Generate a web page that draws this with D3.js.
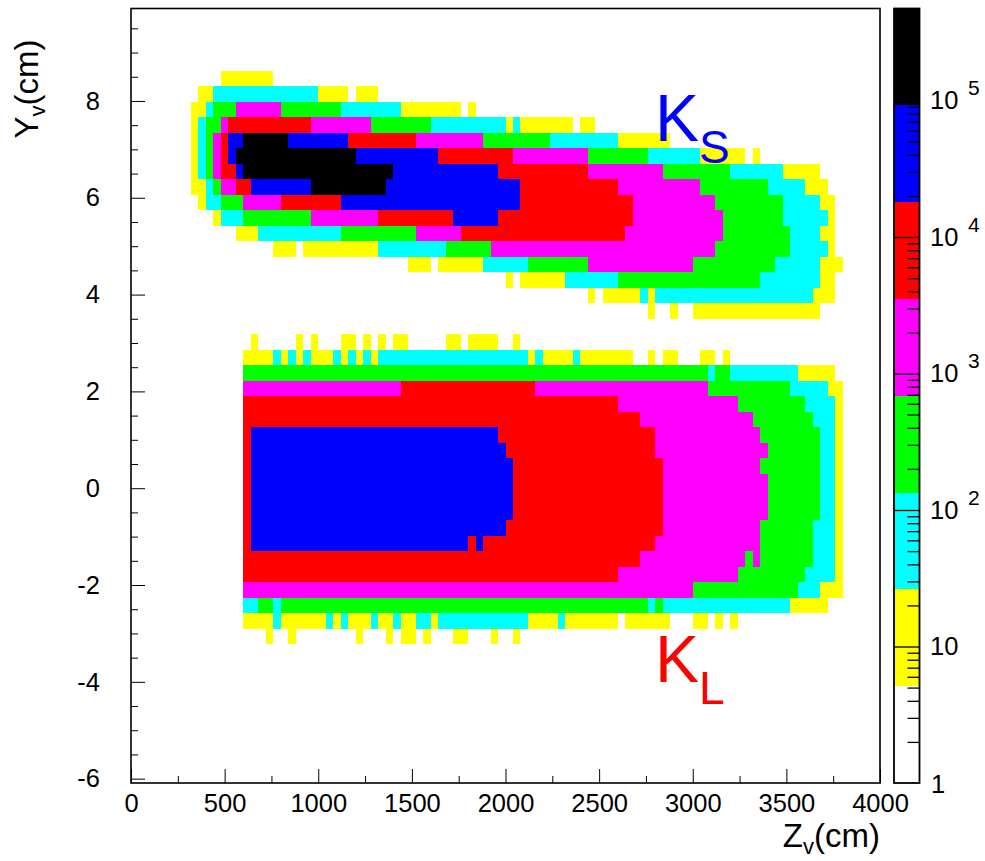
<!DOCTYPE html>
<html>
<head>
<meta charset="utf-8">
<script src="https://cdn.jsdelivr.net/npm/d3@7"></script>
<style>
  body { margin: 0; background: #fff; }
  text { font-family: "Liberation Sans", Arial, sans-serif; fill: #000; }
</style>
</head>
<body>
<div id="chart-area"></div>
<script>
// Colour levels of the histogram, low to high
const levelColors = ["#ffffff", "#ffff00", "#00ffff", "#00ff00", "#ff00ff", "#ff0000", "#0000ff", "#000000"];
const contourEdges = [5.12, 26.2, 134, 686, 3510, 17970, 92000];
const levelCounts = [0, 12, 60, 300, 1500, 8000, 40000, 200000];

// Bins: 40 cm each in Z, 0.32 cm each in Y (counted down from yBinTop)
const zBinSize = 40;
const yBinSize = 0.32;
const yBinTop = 9.9;
const zRange = [0, 4000];
const yRange = [-6.09, 9.91];
const countRange = [1, 472000];

// Each row: [yBin, [[firstZBin, level], ...]], a level holds until the next entry
const ksRows = [
	[4, [[12,1],[19,0]]],
	[5, [[9,1],[11,2],[25,1],[29,0],[30,1],[33,0]]],
	[6, [[8,1],[10,2],[11,3],[14,4],[20,3],[28,2],[36,1],[44,0],[45,1],[46,0]]],
	[7, [[8,1],[9,2],[10,3],[12,4],[13,5],[24,4],[32,3],[40,2],[50,1],[51,2],[52,1],[59,0],[60,1],[62,0]]],
	[8, [[8,1],[9,2],[10,3],[11,4],[12,5],[13,6],[15,7],[21,6],[29,5],[38,4],[47,3],[56,2],[65,1],[72,0]]],
	[9, [[8,1],[9,2],[10,3],[11,4],[12,5],[13,6],[14,7],[30,6],[41,5],[51,4],[61,3],[69,2],[76,1],[82,0],[83,1],[84,0]]],
	[10, [[8,1],[9,2],[10,3],[11,4],[12,5],[14,6],[15,7],[35,6],[49,5],[61,4],[71,3],[80,2],[87,1],[92,0]]],
	[11, [[8,1],[10,2],[11,3],[12,4],[14,5],[16,6],[24,7],[34,6],[52,5],[65,4],[76,3],[85,2],[90,1],[93,0]]],
	[12, [[9,1],[10,2],[12,3],[15,4],[20,5],[28,6],[52,5],[67,4],[78,3],[87,2],[92,1],[94,0]]],
	[13, [[11,1],[12,2],[15,3],[24,4],[33,5],[43,6],[49,5],[67,4],[79,3],[87,2],[93,1],[94,0]]],
	[14, [[14,1],[17,2],[28,3],[38,4],[44,5],[66,4],[79,3],[88,2],[92,1],[94,0]]],
	[15, [[19,1],[22,0],[23,1],[33,2],[42,3],[48,4],[78,3],[88,2],[93,1],[94,0]]],
	[16, [[37,1],[40,0],[41,1],[47,2],[53,3],[61,4],[75,3],[86,2],[92,1],[95,0]]],
	[17, [[50,1],[51,0],[52,1],[58,2],[65,3],[84,2],[92,1],[94,0]]],
	[18, [[61,1],[62,0],[63,1],[68,2],[69,1],[70,2],[91,1],[94,0]]],
	[19, [[69,1],[70,0],[72,1],[73,0],[75,1],[92,0]]]
];

const klRows = [
	[21, [[16,1],[17,0],[22,1],[23,0],[24,1],[25,0],[28,1],[30,0],[31,1],[32,0],[33,1],[34,0],[35,1],[37,0],[42,1],[44,0],[45,1],[49,0],[51,1],[52,0]]],
	[22, [[15,1],[19,2],[20,1],[21,2],[22,1],[23,2],[24,1],[27,2],[28,1],[29,2],[30,1],[31,2],[32,1],[33,2],[53,1],[54,2],[55,1],[59,2],[60,1],[67,0],[69,1],[70,0],[71,1],[73,0],[76,1],[78,0],[79,1],[80,0]]],
	[23, [[15,3],[77,2],[78,3],[80,2],[89,1],[94,0]]],
	[24, [[15,4],[36,5],[54,4],[77,3],[88,2],[93,1],[95,0]]],
	[25, [[15,5],[65,4],[81,3],[90,2],[94,1],[95,0]]],
	[26, [[15,5],[68,4],[83,3],[91,2],[94,1],[95,0]]],
	[27, [[15,5],[16,6],[49,5],[70,4],[84,3],[92,2],[94,1],[95,0]]],
	[28, [[15,5],[16,6],[50,5],[70,4],[85,3],[92,2],[94,1],[95,0]]],
	[29, [[15,5],[16,6],[51,5],[71,4],[84,3],[92,2],[94,1],[95,0]]],
	[30, [[15,5],[16,6],[51,5],[71,4],[85,3],[92,2],[94,1],[95,0]]],
	[31, [[15,5],[16,6],[51,5],[71,4],[85,3],[92,2],[94,1],[95,0]]],
	[32, [[15,5],[16,6],[51,5],[71,4],[85,3],[92,2],[94,1],[95,0]]],
	[33, [[15,5],[16,6],[50,5],[71,4],[84,3],[91,2],[94,1],[95,0]]],
	[34, [[15,5],[16,6],[45,5],[46,6],[47,5],[70,4],[84,3],[91,2],[94,1],[95,0]]],
	[35, [[15,5],[68,4],[82,3],[83,4],[84,3],[91,2],[94,1],[95,0]]],
	[36, [[15,5],[65,4],[81,3],[90,2],[94,1],[95,0]]],
	[37, [[15,4],[75,3],[89,2],[92,1],[95,0]]],
	[38, [[15,2],[17,3],[19,2],[20,3],[69,2],[70,3],[71,2],[88,1],[93,0]]],
	[39, [[15,1],[19,2],[20,1],[26,2],[27,1],[28,2],[29,1],[32,2],[33,1],[35,2],[36,1],[38,2],[40,1],[41,2],[53,1],[57,2],[58,1],[65,0],[66,1],[72,0],[75,1],[77,0],[78,1],[79,0],[80,1],[81,0]]],
	[40, [[18,1],[19,0],[21,1],[22,0],[30,1],[31,0],[34,1],[35,0],[36,1],[38,0],[39,1],[40,0],[43,1],[45,0],[48,1],[49,0],[51,1],[52,0]]]
];

// Axis ticks
const zMajorTicks = [0, 500, 1000, 1500, 2000, 2500, 3000, 3500, 4000];
const zMinorTicks = [250, 750, 1250, 1750, 2250, 2750, 3250, 3750];
const yMajorTicks = [-6, -4, -2, 0, 2, 4, 6, 8];
const yMinorTicks = [-5.5, -5, -4.5, -3.5, -3, -2.5, -1.5, -1, -0.5, 0.5, 1, 1.5, 2.5, 3, 3.5, 4.5, 5, 5.5, 6.5, 7, 7.5, 8.5, 9, 9.5];
const countDecades = [10, 100, 1000, 10000, 100000];
const countMinorSteps = [2, 3, 4, 5, 6, 7, 8, 9];

const drawChart = () => {
	let margin = {left: 131, right: 105, top: 8.5, bottom: 78};
	let width = 985 - margin.left - margin.right;
	let height = 861 - margin.top - margin.bottom;

	let svg = d3.select("#chart-area")
		.append("svg")
			.attr("width", 985)
			.attr("height", 861)
			.style("display", "block")
		.append("g")
			.attr("transform", "translate(" + margin.left + "," + margin.top + ")");

	// X scale
	let x = d3.scaleLinear()
		.domain(zRange)
		.range([0, width]);

	// Y scale
	let y = d3.scaleLinear()
		.domain(yRange)
		.range([height, 0]);

	// Colour by counts in a bin
	let color = d3.scaleThreshold()
		.domain(contourEdges)
		.range(levelColors);

	// Turn the rows into one rect per run
	let runs = [];
	ksRows.concat(klRows).forEach((row) => {
		row[1].forEach((entry, i) => {
			if (entry[1] > 0) {
				runs.push({yBin: row[0], first: entry[0], last: row[1][i + 1][0], count: levelCounts[entry[1]]});
			}
		});
	});

	svg.append("g")
		.attr("shape-rendering", "crispEdges")
		.selectAll("rect")
		.data(runs)
		.enter()
		.append("rect")
			.attr("x", (d) => x(d.first * zBinSize))
			.attr("width", (d) => x(d.last * zBinSize) - x(d.first * zBinSize))
			.attr("y", (d) => y(yBinTop - d.yBin * yBinSize))
			.attr("height", (d) => y(yBinTop - (d.yBin + 1) * yBinSize) - y(yBinTop - d.yBin * yBinSize))
			.attr("fill", (d) => color(d.count));

	// X axis
	let xAxis = svg.append("g")
		.attr("transform", "translate(0," + height + ")")
		.call(d3.axisBottom(x).tickValues(zMajorTicks).tickSize(-14).tickPadding(11).tickFormat(d3.format("d")));
	svg.append("g")
		.attr("transform", "translate(0," + height + ")")
		.call(d3.axisBottom(x).tickValues(zMinorTicks).tickSize(-7).tickFormat(""));

	// Y axis
	let yAxis = svg.append("g")
		.call(d3.axisLeft(y).tickValues(yMajorTicks).tickSize(-14).tickPadding(31).tickFormat((d) => String(d)));
	svg.append("g")
		.call(d3.axisLeft(y).tickValues(yMinorTicks).tickSize(-7).tickFormat(""));

	svg.selectAll(".domain").remove();
	xAxis.selectAll("text").attr("font-size", "25.5px").attr("font-family", "Liberation Sans").attr("fill", "#000");
	yAxis.selectAll("text").attr("font-size", "25.5px").attr("font-family", "Liberation Sans").attr("fill", "#000");

	// Frame
	svg.append("rect")
		.attr("width", width)
		.attr("height", height)
		.attr("fill", "none")
		.attr("stroke", "#000")
		.attr("stroke-width", 1.6);

	// Axis titles
	let xLabel = svg.append("text")
		.attr("x", width)
		.attr("y", 838)
		.attr("text-anchor", "end")
		.attr("font-size", "33px");
	xLabel.append("tspan").text("Z");
	xLabel.append("tspan").attr("font-size", "22px").attr("dy", 7).text("v");
	xLabel.append("tspan").attr("dy", -7).text("(cm)");

	let yLabel = svg.append("text")
		.attr("transform", "translate(-93,31) rotate(-90)")
		.attr("text-anchor", "end")
		.attr("font-size", "33px");
	yLabel.append("tspan").text("Y");
	yLabel.append("tspan").attr("font-size", "22px").attr("dy", 7).text("v");
	yLabel.append("tspan").attr("dy", -7).text("(cm)");

	// K labels
	let ks = svg.append("text")
		.attr("x", 524)
		.attr("y", 132)
		.attr("font-size", "66px");
	ks.append("tspan").style("fill", "#0000ff").text("K");
	ks.append("tspan").style("fill", "#0000ff").attr("font-size", "46px").attr("dy", 22).text("S");

	let kl = svg.append("text")
		.attr("x", 524)
		.attr("y", 673.5)
		.attr("font-size", "66px");
	kl.append("tspan").style("fill", "#ff0000").text("K");
	kl.append("tspan").style("fill", "#ff0000").attr("font-size", "46px").attr("dy", 22).text("L");

	// Colour bar
	let bar = svg.append("g")
		.attr("transform", "translate(" + (894 - margin.left) + ",0)");
	let barWidth = 25.5;
	let c = d3.scaleLog()
		.domain(countRange)
		.range([height, 0]);
	let bands = levelColors.map((fill, i) => ({
		low: i === 0 ? countRange[0] : contourEdges[i - 1],
		high: i === levelColors.length - 1 ? countRange[1] : contourEdges[i],
		fill: fill
	}));
	bar.append("g")
		.attr("shape-rendering", "crispEdges")
		.selectAll("rect")
		.data(bands)
		.enter()
		.append("rect")
			.attr("width", barWidth)
			.attr("y", (d) => c(d.high))
			.attr("height", (d) => c(d.low) - c(d.high))
			.attr("fill", (d) => d.fill);

	let minorCounts = [];
	[1].concat(countDecades).forEach((decade) => {
		countMinorSteps.forEach((step) => {
			if (decade * step <= countRange[1]) {
				minorCounts.push(decade * step);
			}
		});
	});
	let barRight = bar.append("g").attr("transform", "translate(" + barWidth + ",0)");
	barRight.call(d3.axisLeft(c).tickValues(minorCounts).tickSize(12).tickFormat(""));
	barRight.append("g").call(d3.axisLeft(c).tickValues(countDecades).tickSize(barWidth).tickFormat(""));
	barRight.selectAll(".domain").remove();
	barRight.selectAll("line").attr("stroke-width", 1.3);

	bar.append("rect")
		.attr("width", barWidth)
		.attr("height", height)
		.attr("fill", "none")
		.attr("stroke", "#000")
		.attr("stroke-width", 1.8);

	// Colour bar labels
	countDecades.forEach((decade) => {
		let power = Math.round(Math.log10(decade));
		bar.append("text")
			.attr("x", 36)
			.attr("y", c(decade) + 9)
			.attr("font-size", "25.5px")
			.text("10");
		if (power > 1) {
			bar.append("text")
				.attr("x", 74)
				.attr("y", c(decade) - 5)
				.attr("font-size", "21px")
				.text(power);
		}
	});
	bar.append("text")
		.attr("x", 37)
		.attr("y", c(1) + 10)
		.attr("font-size", "25.5px")
		.text("1");
};

drawChart();
</script>
</body>
</html>
